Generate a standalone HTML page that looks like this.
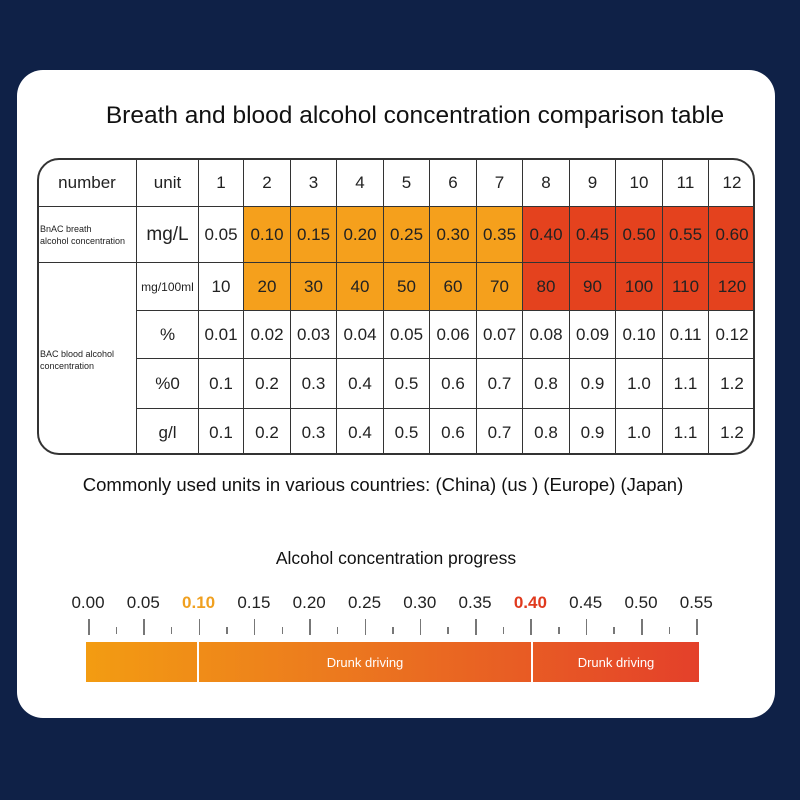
<!DOCTYPE html><html><head><style>
body{margin:0;width:800px;height:800px;background:#0f2147;position:relative;overflow:hidden;font-family:"Liberation Sans",sans-serif}
.card{position:absolute;left:17px;top:70px;width:758px;height:648px;background:#fff;border-radius:26px}
.t{position:absolute;text-align:center;color:#111}
.wrap{position:absolute;left:37px;top:158px;width:718px;height:297px;border:2px solid #333;border-radius:22px;overflow:hidden;box-sizing:border-box}
table{border-collapse:collapse;table-layout:fixed;width:718px;margin:-2px 0 0 -2px}
td{border:1.5px solid #333;text-align:center;font-size:17px;color:#222;padding:0;white-space:nowrap;overflow:hidden}
.o{background:#f5a01c}.r{background:#e4421e}
.s{font-size:9px;text-align:left;padding-left:2px;line-height:12px}
.tick{position:absolute;width:1.5px;background:#777}
</style></head><body>
<div class="card"></div>
<div class="t" style="left:0;width:830px;top:102px;font-size:24.5px;font-weight:500">Breath and blood alcohol concentration comparison table</div>
<div class="wrap"><table>
<colgroup><col style="width:99px"><col style="width:62px"><col style="width:45px"><col style="width:47px"><col style="width:46px"><col style="width:47px"><col style="width:46px"><col style="width:47px"><col style="width:46px"><col style="width:47px"><col style="width:46px"><col style="width:47px"><col style="width:46px"><col style="width:47px"></colgroup>
<tr style="height:48px"><td>number</td><td>unit</td><td>1</td><td>2</td><td>3</td><td>4</td><td>5</td><td>6</td><td>7</td><td>8</td><td>9</td><td>10</td><td>11</td><td>12</td></tr>
<tr style="height:56px"><td class="s">BnAC breath<br>alcohol concentration</td><td style="font-size:19px">mg/L</td><td>0.05</td><td class="o">0.10</td><td class="o">0.15</td><td class="o">0.20</td><td class="o">0.25</td><td class="o">0.30</td><td class="o">0.35</td><td class="r">0.40</td><td class="r">0.45</td><td class="r">0.50</td><td class="r">0.55</td><td class="r">0.60</td></tr>
<tr style="height:48px"><td rowspan="4" class="s" style="vertical-align:middle">BAC blood alcohol<br>concentration</td><td style="font-size:12px">mg/100ml</td><td>10</td><td class="o">20</td><td class="o">30</td><td class="o">40</td><td class="o">50</td><td class="o">60</td><td class="o">70</td><td class="r">80</td><td class="r">90</td><td class="r">100</td><td class="r">110</td><td class="r">120</td></tr>
<tr style="height:48px"><td>%</td><td>0.01</td><td>0.02</td><td>0.03</td><td>0.04</td><td>0.05</td><td>0.06</td><td>0.07</td><td>0.08</td><td>0.09</td><td>0.10</td><td>0.11</td><td>0.12</td></tr>
<tr style="height:50px"><td>%0</td><td>0.1</td><td>0.2</td><td>0.3</td><td>0.4</td><td>0.5</td><td>0.6</td><td>0.7</td><td>0.8</td><td>0.9</td><td>1.0</td><td>1.1</td><td>1.2</td></tr>
<tr style="height:49px"><td>g/l</td><td>0.1</td><td>0.2</td><td>0.3</td><td>0.4</td><td>0.5</td><td>0.6</td><td>0.7</td><td>0.8</td><td>0.9</td><td>1.0</td><td>1.1</td><td>1.2</td></tr>
</table></div>
<div class="t" style="left:0;width:766px;top:474px;font-size:18.5px">Commonly used units in various countries: (China) (us ) (Europe) (Japan)</div>
<div class="t" style="left:0;width:792px;top:548px;font-size:17.5px">Alcohol concentration progress</div>
<div id="r"></div>
<div style="position:absolute;left:86px;top:642px;width:613px;height:40px;background:linear-gradient(90deg,#f39c12,#ec7a1e 40%,#e4402a)"></div>
<div style="position:absolute;left:197px;top:642px;width:2px;height:40px;background:#fff"></div>
<div style="position:absolute;left:531px;top:642px;width:2px;height:40px;background:#fff"></div>
<div class="t" style="left:199px;width:332px;top:655px;font-size:13px;color:#fff">Drunk driving</div>
<div class="t" style="left:533px;width:166px;top:655px;font-size:13px;color:#fff">Drunk driving</div>
<script>
var h='',labs=['0.00','0.05','0.10','0.15','0.20','0.25','0.30','0.35','0.40','0.45','0.50','0.55'];
for(var i=0;i<12;i++){var x=88+i*55.3;var c=i==2?'#f0a020':(i==8?'#e03a1e':'#222');var w=(i==2||i==8)?'bold':'normal';
h+='<div class="t" style="left:'+(x-30)+'px;width:60px;top:593px;font-size:17px;color:'+c+';font-weight:'+w+'">'+labs[i]+'</div>';
h+='<div class="tick" style="left:'+x+'px;top:619px;height:16px"></div>';
if(i<11)h+='<div class="tick" style="left:'+(x+27.6)+'px;top:627px;height:7px"></div>';}
document.getElementById('r').innerHTML=h;
</script>
</body></html>
